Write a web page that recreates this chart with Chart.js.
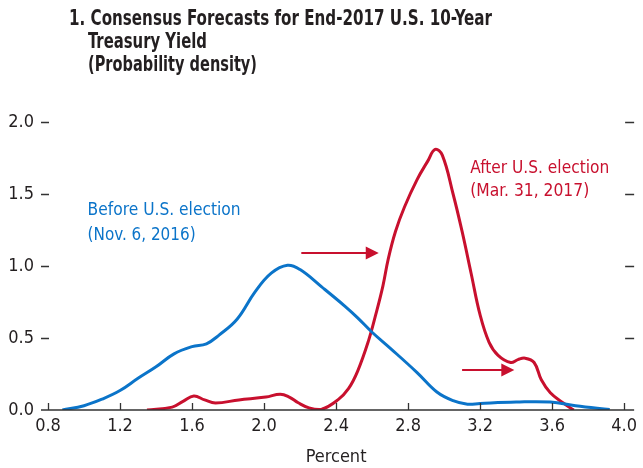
<!DOCTYPE html>
<html>
<head>
<meta charset="utf-8">
<script src="https://cdn.jsdelivr.net/npm/chart.js@4.4.1/dist/chart.umd.min.js"></script>
<style>
  html, body { margin: 0; padding: 0; background: #fff; }
  canvas { display: block; }
</style>
</head>
<body>
<canvas id="densityChart" width="643" height="468"></canvas>
<script>
// values
var beforeX = [0.88, 1.0, 1.1, 1.2, 1.3, 1.4, 1.5, 1.6, 1.68, 1.75, 1.85, 1.95, 2.04, 2.13, 2.2, 2.32, 2.45, 2.52, 2.6, 2.7, 2.85, 2.96, 3.05, 3.13, 3.2, 3.4, 3.59, 3.73, 3.92];
var beforeY = [0.0, 0.03, 0.075, 0.135, 0.22, 0.3, 0.39, 0.44, 0.46, 0.52, 0.63, 0.82, 0.95, 1.005, 0.975, 0.855, 0.72, 0.64, 0.54, 0.43, 0.26, 0.125, 0.065, 0.04, 0.045, 0.055, 0.055, 0.03, 0.003];

var afterX = [1.35, 1.49, 1.55, 1.61, 1.67, 1.73, 1.86, 2.01, 2.09, 2.14, 2.19, 2.25, 2.32, 2.41, 2.47, 2.52, 2.58, 2.62, 2.66, 2.69, 2.73, 2.78, 2.85, 2.91, 2.95, 2.99, 3.05, 3.1, 3.15, 3.2, 3.25, 3.3, 3.37, 3.41, 3.45, 3.5, 3.54, 3.59, 3.66, 3.72];
var afterY = [0.0, 0.02, 0.06, 0.097, 0.07, 0.049, 0.07, 0.09, 0.11, 0.09, 0.05, 0.015, 0.005, 0.07, 0.15, 0.27, 0.48, 0.66, 0.86, 1.05, 1.24, 1.41, 1.6, 1.73, 1.81, 1.77, 1.5, 1.24, 0.95, 0.66, 0.47, 0.38, 0.33, 0.35, 0.36, 0.33, 0.21, 0.12, 0.05, 0.0];

var xTicks = [0.8, 1.2, 1.6, 2.0, 2.4, 2.8, 3.2, 3.6, 4.0];
var yTicks = [0.0, 0.5, 1.0, 1.5, 2.0];

var titleLines = ['1. Consensus Forecasts for End-2017 U.S. 10-Year', 'Treasury Yield', '(Probability density)'];
var beforeLabel = ['Before U.S. election', '(Nov. 6, 2016)'];
var afterLabel = ['After U.S. election', '(Mar. 31, 2017)'];

var BLUE = '#0b74c9';
var RED = '#c8102e';
var FONT = "'Liberation Sans Narrow', 'DejaVu Sans Condensed', 'Arial Narrow', sans-serif";

function toPoints(xs, ys) {
    return xs.map(function (x, i) { return { x: x, y: ys[i] }; });
}

// draw text squeezed to a given width (the source font is a condensed face)
function fitText(ctx, text, x, y, width) {
    var sx = width / ctx.measureText(text).width;
    ctx.save();
    ctx.translate(x, y);
    ctx.scale(sx, 1);
    ctx.fillText(text, 0, 0);
    ctx.restore();
}

function arrow(ctx, x1, x2, y) {
    ctx.beginPath();
    ctx.moveTo(x1, y);
    ctx.lineTo(x2 - 10, y);
    ctx.stroke();
    ctx.beginPath();
    ctx.moveTo(x2, y);
    ctx.lineTo(x2 - 13, y - 6.5);
    ctx.lineTo(x2 - 13, y + 6.5);
    ctx.closePath();
    ctx.fill();
}

var decorations = {
    id: 'decorations',
    afterDraw: function (chart) {
        var ctx = chart.ctx;
        var area = chart.chartArea;
        var xs = chart.scales.x;
        var ys = chart.scales.y;
        ctx.save();

        // axis line and tick marks
        ctx.strokeStyle = '#333';
        ctx.lineWidth = 1.3;
        ctx.beginPath();
        ctx.moveTo(area.left - 7, area.bottom);
        ctx.lineTo(area.right + 10, area.bottom);
        xTicks.forEach(function (v) {
            var px = Math.round(xs.getPixelForValue(v)) + 0.5;
            ctx.moveTo(px, area.bottom);
            ctx.lineTo(px, area.bottom - 7);
        });
        yTicks.forEach(function (v) {
            if (v === 0) return;
            var py = Math.round(ys.getPixelForValue(v)) + 0.5;
            ctx.moveTo(area.left - 7, py);
            ctx.lineTo(area.left + 1, py);
            ctx.moveTo(area.right + 1, py);
            ctx.lineTo(area.right + 10, py);
        });
        ctx.stroke();

        // title
        ctx.fillStyle = '#231f20';
        ctx.textBaseline = 'alphabetic';
        ctx.textAlign = 'left';
        ctx.font = 'bold 22px ' + FONT;
        fitText(ctx, titleLines[0], 69, 25, 423);
        fitText(ctx, titleLines[1], 88, 48, 119);
        fitText(ctx, titleLines[2], 88, 71, 169);

        // x axis title
        ctx.font = '18px ' + FONT;
        ctx.textAlign = 'center';
        ctx.fillText('Percent', xs.getPixelForValue(2.4), 462);
        ctx.textAlign = 'left';

        // series labels
        ctx.fillStyle = BLUE;
        var bx = xs.getPixelForValue(1.02);
        fitText(ctx, beforeLabel[0], bx, ys.getPixelForValue(1.354), 153);
        fitText(ctx, beforeLabel[1], bx, ys.getPixelForValue(1.18), 108);
        ctx.fillStyle = RED;
        var ax = xs.getPixelForValue(3.145);
        fitText(ctx, afterLabel[0], ax, ys.getPixelForValue(1.646), 139);
        fitText(ctx, afterLabel[1], ax, ys.getPixelForValue(1.486), 119);

        // arrows
        ctx.strokeStyle = RED;
        ctx.lineWidth = 2;
        arrow(ctx, xs.getPixelForValue(2.207), xs.getPixelForValue(2.637), ys.getPixelForValue(1.09));
        arrow(ctx, xs.getPixelForValue(3.10), xs.getPixelForValue(3.39), ys.getPixelForValue(0.278));

        ctx.restore();
    }
};

var ctx = document.getElementById('densityChart').getContext('2d');
var myChart = new Chart(ctx, {
    type: 'line',
    data: {
        datasets: [{
            label: 'Before U.S. election',
            data: toPoints(beforeX, beforeY),
            borderColor: BLUE,
            borderWidth: 3,
            pointRadius: 0,
            tension: 0.4
        }, {
            label: 'After U.S. election',
            data: toPoints(afterX, afterY),
            borderColor: RED,
            borderWidth: 3,
            pointRadius: 0,
            tension: 0.4
        }]
    },
    options: {
        responsive: false,
        animation: false,
        layout: {
            padding: { top: 122, right: 15, left: 0, bottom: 0 }
        },
        plugins: {
            legend: { display: false },
            tooltip: { enabled: false }
        },
        scales: {
            x: {
                type: 'linear',
                min: 0.8,
                max: 4.0,
                afterFit: function (scale) { scale.height = 58; },
                afterBuildTicks: function (scale) {
                    scale.ticks = xTicks.map(function (v) { return { value: v }; });
                },
                grid: { display: false, drawTicks: false },
                border: { display: false },
                ticks: {
                    padding: 6,
                    color: '#231f20',
                    font: { family: FONT, size: 18 },
                    maxRotation: 0,
                    callback: function (v) { return v.toFixed(1); }
                }
            },
            y: {
                min: 0,
                max: 2.0,
                afterFit: function (scale) { scale.width = 48; },
                afterBuildTicks: function (scale) {
                    scale.ticks = yTicks.map(function (v) { return { value: v }; });
                },
                grid: { display: false, drawTicks: false },
                border: { display: false },
                ticks: {
                    padding: 14,
                    color: '#231f20',
                    font: { family: FONT, size: 18 },
                    callback: function (v) { return v.toFixed(1); }
                }
            }
        }
    },
    plugins: [decorations]
});
</script>
</body>
</html>
